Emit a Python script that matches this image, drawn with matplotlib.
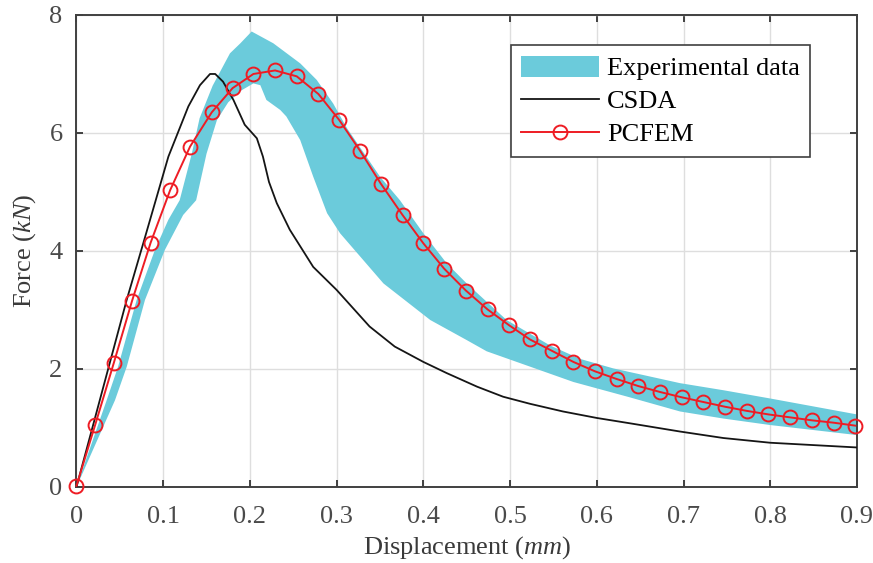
import numpy as np
import matplotlib
matplotlib.use("Agg")
import matplotlib.pyplot as plt

plt.rcParams['font.family'] = ['Liberation Serif', 'DejaVu Serif']
plt.rcParams['mathtext.fontset'] = 'custom'
plt.rcParams['mathtext.rm'] = 'Liberation Serif'
plt.rcParams['mathtext.it'] = 'Liberation Serif:italic'

# experimental band: upper and lower envelopes (displacement mm, force kN)
exp_up_x = [0, 0.0348, 0.048, 0.0694, 0.0905, 0.106, 0.119, 0.133, 0.142, 0.157,
            0.177, 0.189, 0.202, 0.227, 0.258, 0.277, 0.296, 0.312, 0.350, 0.373,
            0.400, 0.427, 0.450, 0.496, 0.546, 0.581, 0.619, 0.696, 0.746, 0.800, 0.900]
exp_up_y = [0, 1.47, 2.04, 3.17, 4.02, 4.53, 4.86, 5.65, 6.25, 6.80,
            7.35, 7.52, 7.72, 7.52, 7.18, 6.90, 6.50, 6.08, 5.26, 4.86,
            4.30, 3.79, 3.45, 2.83, 2.40, 2.17, 2.01, 1.76, 1.64, 1.50, 1.23]
exp_lo_x = [0, 0.0444, 0.058, 0.079, 0.102, 0.123, 0.138, 0.150, 0.162, 0.175,
            0.190, 0.204, 0.212, 0.219, 0.235, 0.242, 0.258, 0.273, 0.289, 0.304,
            0.354, 0.408, 0.450, 0.473, 0.523, 0.573, 0.638, 0.696, 0.746, 0.800, 0.900]
exp_lo_y = [0, 1.47, 2.04, 3.17, 4.02, 4.61, 4.86, 5.65, 6.22, 6.52,
            6.72, 6.84, 6.81, 6.56, 6.39, 6.28, 5.88, 5.26, 4.64, 4.30,
            3.45, 2.83, 2.49, 2.30, 2.04, 1.78, 1.52, 1.28, 1.16, 1.05, 0.88]

csda_x = [0, 0.0579, 0.077, 0.106, 0.129, 0.1424, 0.154, 0.160, 0.169, 0.181,
          0.194, 0.208, 0.215, 0.222, 0.231, 0.246, 0.273, 0.300, 0.338, 0.367,
          0.400, 0.427, 0.462, 0.492, 0.523, 0.561, 0.600, 0.638, 0.696, 0.746,
          0.800, 0.850, 0.900]
csda_y = [0, 3.17, 4.13, 5.60, 6.45, 6.81, 7.00, 7.00, 6.87, 6.56,
          6.14, 5.91, 5.60, 5.17, 4.81, 4.36, 3.73, 3.34, 2.72, 2.38,
          2.12, 1.93, 1.70, 1.53, 1.41, 1.28, 1.17, 1.08, 0.94, 0.83,
          0.75, 0.71, 0.67]

pcfem_x = [0, 0.0215, 0.043, 0.064, 0.0855, 0.108, 0.131, 0.156, 0.180, 0.204,
           0.229, 0.254, 0.279, 0.303, 0.327, 0.351, 0.376, 0.400, 0.424, 0.449,
           0.474, 0.499, 0.523, 0.548, 0.573, 0.598, 0.623, 0.648, 0.673, 0.698,
           0.723, 0.748, 0.773, 0.798, 0.823, 0.848, 0.873, 0.898]
pcfem_y = [0.02, 1.05, 2.10, 3.15, 4.14, 5.03, 5.77, 6.35, 6.76, 7.00,
           7.06, 6.96, 6.66, 6.22, 5.70, 5.14, 4.61, 4.13, 3.70, 3.33,
           3.01, 2.74, 2.50, 2.31, 2.12, 1.96, 1.83, 1.71, 1.61, 1.52,
           1.44, 1.36, 1.29, 1.23, 1.18, 1.13, 1.09, 1.04]

xticks = np.arange(0, 0.91, 0.1)
yticks = [0, 2, 4, 6, 8]

axcol = '#404040'
fs = 19

fig = plt.figure(figsize=(8.73, 5.63), dpi=100)
ax = fig.add_axes([0.0876, 0.135, 0.894, 0.8384])

poly_x = exp_up_x + exp_lo_x[::-1]
poly_y = exp_up_y + exp_lo_y[::-1]
ax.fill(poly_x, poly_y, color='#6bcbdb', lw=0, label='Experimental data', zorder=2)
ax.plot(csda_x, csda_y, color='#151515', lw=1.3, label='CSDA', zorder=3)
ax.plot(pcfem_x, pcfem_y, color='#ee1c24', lw=1.4, marker='o', ms=10,
        mfc='none', mec='#ee1c24', mew=1.4, label='PCFEM', zorder=4, clip_on=False)

ax.set_xlim(0, 0.9)
ax.set_ylim(0, 8)
ax.set_xticks(xticks)
ax.set_xticklabels(['0', '0.1', '0.2', '0.3', '0.4', '0.5', '0.6', '0.7', '0.8', '0.9'])
ax.set_yticks(yticks)
ax.grid(True, color='#dedede', lw=1.0, zorder=0)
ax.set_axisbelow(True)

for s in ax.spines.values():
    s.set_color(axcol)
    s.set_linewidth(1.4)
ax.tick_params(direction='in', top=True, right=True, length=5, width=1.4,
               colors=axcol, labelsize=fs, labelcolor='#4a4a4a')
ax.tick_params(axis='x', pad=14)
ax.tick_params(axis='y', pad=10)

ax.set_xlabel('Displacement ($\\mathit{mm}$)', fontsize=fs, color='#3a3a3a', labelpad=4)
ax.set_ylabel('Force ($\\mathit{kN}$)', fontsize=fs, color='#3a3a3a', labelpad=8)

leg = ax.legend(loc='upper left', bbox_to_anchor=(0.585, 0.920),
                bbox_transform=fig.transFigure, borderaxespad=0,
                fontsize=fs, handlelength=2.95, handleheight=0.85,
                handletextpad=0.3, labelspacing=0.32, borderpad=0.4,
                fancybox=False, framealpha=1)
leg.get_frame().set_edgecolor(axcol)
leg.get_frame().set_linewidth(1.2)

fig.savefig('out.png', dpi=100)
